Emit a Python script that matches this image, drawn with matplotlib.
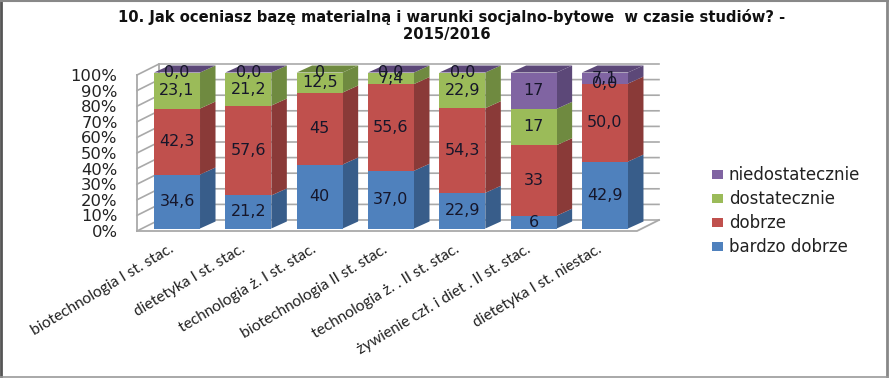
import numpy as np
import matplotlib
matplotlib.use("Agg")
import matplotlib.pyplot as plt
from matplotlib.patches import Patch, Polygon
from matplotlib.lines import Line2D
from matplotlib.transforms import ScaledTranslation

categories = ["biotechnologia I st. stac.", "dietetyka I st. stac.", "technologia ż. I st. stac.",
              "biotechnologia II st. stac.", "technologia ż. . II st. stac.",
              "żywienie czł. i diet . II st. stac.", "dietetyka I st. niestac."]
bardzo_dobrze = [34.6, 21.2, 40, 37.0, 22.9, 6, 42.9]
dobrze = [42.3, 57.6, 45, 55.6, 54.3, 33, 50.0]
dostatecznie = [23.1, 21.2, 12.5, 7.4, 22.9, 17, 0.0]
niedostatecznie = [0.0, 0.0, 0, 0.0, 0.0, 17, 7.1]
label_bardzo = ["34,6", "21,2", "40", "37,0", "22,9", "6", "42,9"]
label_dobrze = ["42,3", "57,6", "45", "55,6", "54,3", "33", "50,0"]
label_dost = ["23,1", "21,2", "12,5", "7,4", "22,9", "17", "0,0"]
label_nied = ["0,0", "0,0", "0", "0,0", "0,0", "17", "7,1"]
series_names = ["bardzo dobrze", "dobrze", "dostatecznie", "niedostatecznie"]
title = "10. Jak oceniasz bazę materialną i warunki socjalno-bytowe  w czasie studiów? -\n2015/2016  "

W, H = 889, 378
front = ["#4F81BD", "#C0504D", "#9BBB59", "#8064A2"]
side = ["#385D8A", "#8A3A38", "#6F8A40", "#5C4878"]
top_series = [3, 3, 2, 3, 3, 3, 3]
grid_c = "#A9A9A9"

fig = plt.figure(figsize=(W / 100, H / 100), dpi=100, facecolor="white")
ax = fig.add_axes([137 / W, 1 - 231 / H, 500 / W, 156 / H])
ax.set_xlim(-0.561, 6.449)
ax.set_ylim(0, 100)
for s in ax.spines.values():
    s.set_visible(False)

xl, xr = ax.get_xlim()
wall_dx, wall_dy = 22 / 71.33, 11 / 1.56
bar_w = 46 / 71.33
bar_dx, bar_dy = 15.5 / 71.33, 7 / 1.56
base = 1.6

ticks = np.arange(0, 101, 10)
for t in ticks:
    ax.plot([xl, xl + wall_dx, xr + wall_dx], [t, t + wall_dy, t + wall_dy],
            color=grid_c, lw=1.2, clip_on=False, zorder=1)
ax.plot([xl, xl], [0, 100], color=grid_c, lw=1.3, clip_on=False, zorder=1)
ax.plot([xl + wall_dx, xl + wall_dx], [wall_dy, 100 + wall_dy], color=grid_c, lw=1.3, clip_on=False, zorder=1)
ax.plot([xl, xr, xr + wall_dx], [0, 0, wall_dy], color=grid_c, lw=1.3, clip_on=False, zorder=1)

data = np.array([bardzo_dobrze, dobrze, dostatecznie, niedostatecznie], dtype=float)
labels = [label_bardzo, label_dobrze, label_dost, label_nied]
shares = data / data.sum(axis=0) * 100
idx = np.arange(len(categories))
bottoms = np.zeros(len(categories))
for k, name in enumerate(series_names):
    ax.bar(idx, shares[k], bar_w, bottom=bottoms + base, color=front[k], linewidth=0, zorder=4, clip_on=False)
    for i in idx:
        b, t = bottoms[i] + base, bottoms[i] + shares[k, i] + base
        xa = i + bar_w / 2
        ax.add_patch(Polygon([(xa, b), (xa + bar_dx, b + bar_dy), (xa + bar_dx, t + bar_dy), (xa, t)],
                             closed=True, fc=side[k], ec="none", zorder=3, clip_on=False))
        ax.text(i, (b + t) / 2, labels[k][i], ha="center", va="center", fontsize=11.5,
                color="#16162a", zorder=6, clip_on=False)
    bottoms = bottoms + shares[k]
for i in idx:
    xa, xb = i - bar_w / 2, i + bar_w / 2
    y = bottoms[i] + base
    ax.add_patch(Polygon([(xa, y), (xb, y), (xb + bar_dx, y + bar_dy), (xa + bar_dx, y + bar_dy)],
                         closed=True, fc=side[top_series[i]], ec="none", zorder=5, clip_on=False))

ax.set_yticks(ticks)
ax.set_yticklabels([f"{t}%" for t in ticks], fontsize=11.8, color="#222222")
ax.tick_params(axis="y", length=0, pad=14)
ax.set_xticks(idx)
ax.set_xticklabels(categories, rotation=31, ha="right", va="top", rotation_mode="anchor",
                   fontsize=11.2, family="Lato", color="#222222")
ax.tick_params(axis="x", length=0, pad=8)
shift = ScaledTranslation(-8 / 100, 0, fig.dpi_scale_trans)
for lab in ax.get_xticklabels():
    lab.set_transform(lab.get_transform() + shift)

handles = [Patch(fc=front[k], ec="none", label=series_names[k]) for k in range(3, -1, -1)]
fig.legend(handles=handles, loc="center left", bbox_to_anchor=(697 / W, 1 - 211 / H), frameon=False,
           fontsize=12, labelspacing=0.36, handlelength=0.66, handleheight=0.45, handletextpad=0.36,
           labelcolor="#222222")

fig.text(452 / W, 1 - 25.5 / H, title, ha="center", va="center", fontsize=10.6, fontweight="bold",
         color="#111111", linespacing=1.1)

fig.add_artist(Line2D([1 / W, 1 / W], [0, 1], transform=fig.transFigure, color="#555555", lw=2))
fig.add_artist(Line2D([887 / W, 887 / W], [0, 1], transform=fig.transFigure, color="#888888", lw=2))
fig.add_artist(Line2D([0, 1], [1 - 0.5 / H] * 2, transform=fig.transFigure, color="#888888", lw=1.5))
fig.add_artist(Line2D([0, 1], [0.8 / H] * 2, transform=fig.transFigure, color="#999999", lw=1.2))

fig.savefig("out.png", dpi=100, facecolor="white")
